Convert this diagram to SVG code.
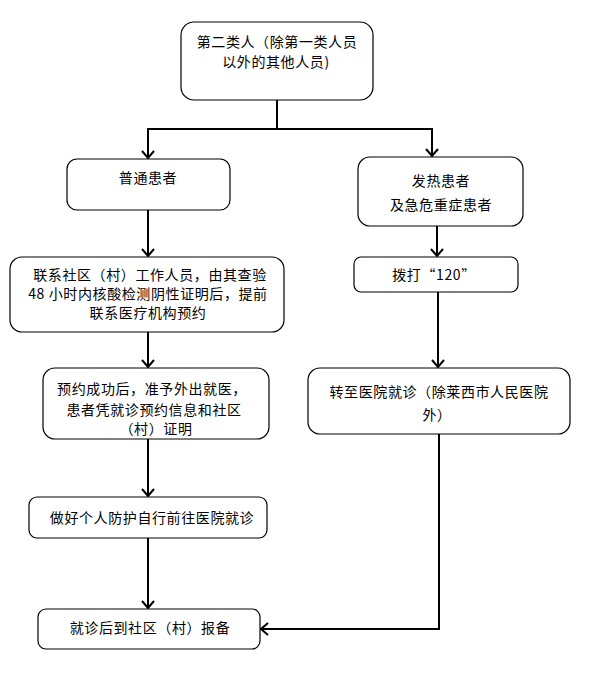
<svg xmlns="http://www.w3.org/2000/svg" width="591" height="678" viewBox="0 0 591 678">
<style>
.box{fill:#fff;stroke:#000;stroke-width:1.2}
.t{font-family:"Noto Sans CJK SC","Liberation Sans",sans-serif;font-size:14px;fill:#000;text-anchor:middle;letter-spacing:0.6px}
.c{fill:none;stroke:#000;stroke-width:2}
</style>
<defs>
<marker id="ar" markerUnits="userSpaceOnUse" markerWidth="14" markerHeight="14" viewBox="0 0 14 14" refX="12" refY="7" orient="auto">
<path d="M5,1 L12,7 L5,13" fill="none" stroke="#000" stroke-width="2"/>
</marker>
</defs>
<rect width="591" height="678" fill="#fff"/>
<g id="connectors">
<polyline class="c" points="277,100 277,129"/>
<polyline class="c" points="148,129 432,129"/>
<polyline class="c" points="148,128 148,158" marker-end="url(#ar)"/>
<polyline class="c" points="432,128 432,156" marker-end="url(#ar)"/>
<polyline class="c" points="148,210 148,256" marker-end="url(#ar)"/>
<polyline class="c" points="437,226 437,256" marker-end="url(#ar)"/>
<polyline class="c" points="438,292 438,367" marker-end="url(#ar)"/>
<polyline class="c" points="148,332 148,367" marker-end="url(#ar)"/>
<polyline class="c" points="148,439 148,496" marker-end="url(#ar)"/>
<polyline class="c" points="148,538 148,608" marker-end="url(#ar)"/>
<polyline class="c" points="439,434 439,629 261,629" marker-end="url(#ar)"/>
</g>
<g id="n1">
<rect class="box" x="181" y="22" width="192" height="78" rx="13"/>
<text class="t" x="277" y="47">第二类人（除第一类人员</text>
<text class="t" x="276" y="67">以外的其他人员)</text>
</g>
<g id="n2">
<rect class="box" x="67" y="159" width="163" height="51" rx="10"/>
<text class="t" x="148" y="183">普通患者</text>
</g>
<g id="n3">
<rect class="box" x="358" y="157" width="165" height="69" rx="12"/>
<text class="t" x="441" y="186">发热患者</text>
<text class="t" x="441" y="210">及急危重症患者</text>
</g>
<g id="n4">
<rect class="box" x="10" y="257" width="274" height="75" rx="12"/>
<text class="t" x="150" y="280">联系社区（村）工作人员，由其查验</text>
<text class="t" x="148" y="299">48 小时内核酸检测阴性证明后，提前</text>
<text class="t" x="148" y="318">联系医疗机构预约</text>
</g>
<g id="n5">
<rect class="box" x="354" y="257" width="164" height="35" rx="7"/>
<text class="t" x="434" y="280">拨打“120”</text>
</g>
<g id="n6">
<rect class="box" x="43" y="368" width="226" height="71" rx="12"/>
<text class="t" x="152" y="394">预约成功后，准予外出就医，</text>
<text class="t" x="154" y="415">患者凭就诊预约信息和社区</text>
<text class="t" x="156" y="434">（村）证明</text>
</g>
<g id="n7">
<rect class="box" x="308" y="368" width="262" height="66" rx="12"/>
<text class="t" x="439" y="397">转至医院就诊（除莱西市人民医院</text>
<text class="t" x="437" y="420">外）</text>
</g>
<g id="n8">
<rect class="box" x="29" y="497" width="238" height="41" rx="8"/>
<text class="t" x="152" y="523">做好个人防护自行前往医院就诊</text>
</g>
<g id="n9">
<rect class="box" x="38" y="609" width="222" height="40" rx="8"/>
<text class="t" x="150" y="633">就诊后到社区（村）报备</text>
</g>
</svg>
